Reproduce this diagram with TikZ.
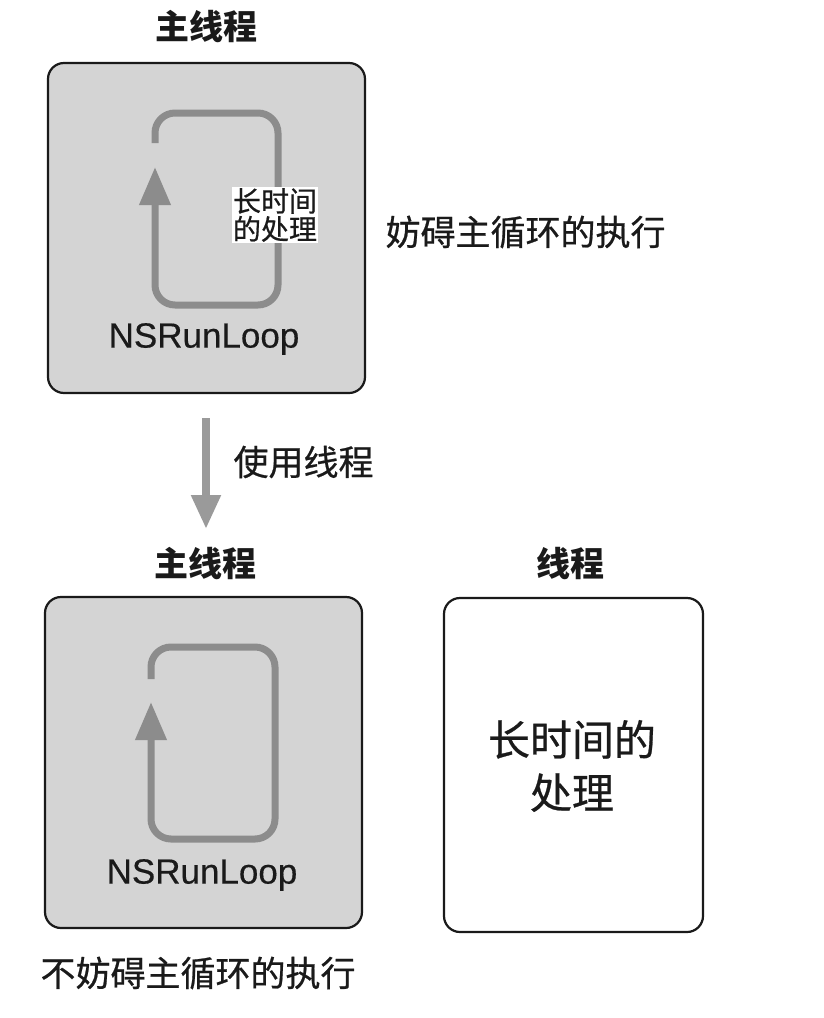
\documentclass[tikz,border=0pt]{standalone}
\usepackage{fontspec}
\setmainfont{Liberation Sans}
\newfontfamily\cjk{Noto Sans CJK SC}[FakeBold=0.6]
\newfontfamily\cjkb{Noto Sans CJK SC}
\newfontfamily\latinm{Liberation Sans}[FakeBold=0.4]
\usetikzlibrary{arrows.meta}
\definecolor{boxgray}{HTML}{D4D4D4}
\definecolor{loopgray}{HTML}{8C8C8C}
\definecolor{arrowgray}{HTML}{9A9A9A}
\definecolor{ink}{HTML}{1A1A1A}
\tikzset{
  panel/.style={draw=ink, line width=2.2pt, rounded corners=16pt, inner sep=0pt},
  loopline/.style={draw=loopgray, line width=7pt, rounded corners=20pt,
    -{Triangle[length=38pt,width=30pt]}},
  title/.style={text=ink, font=\cjkb\bfseries\fontsize{34}{40}\selectfont},
  cjktext/.style={text=ink, font=\cjk\fontsize{35}{40}\selectfont},
  rlname/.style={text=ink, font=\latinm\fontsize{35}{40}\selectfont},
}
\begin{document}
\begin{tikzpicture}[x=1pt,y=-1pt]
\useasboundingbox[fill=white] (0,0) rectangle (824,1018);

% top
\node[title] (t1) at (206,27) {主线程};
\node[panel, fill=boxgray, minimum width=317pt, minimum height=330pt] (box1) at (206.5,228) {};
\coordinate (l1s) at (155,143);
\coordinate (l1a) at (155,113);
\coordinate (l1b) at (278,113);
\coordinate (l1c) at (278,305);
\coordinate (l1d) at (155,305);
\coordinate (l1e) at (155,167);
\draw[loopline] (l1s) -- (l1a) -- (l1b) -- (l1c) -- (l1d) -- (l1e);
\node[fill=white, text=ink, inner sep=1pt, align=left,
      font=\cjk\fontsize{28}{28}\selectfont] (lab1) at (275,215) {长时间\\的处理};
\node[rlname] (rl1) at (204,339) {NSRunLoop};
\node[cjktext, anchor=west] (hinder) at (382,232) {妨碍主循环的执行};

% arrow
\coordinate (a1) at (206,418);
\coordinate (a2) at (206,529);
\draw[draw=arrowgray, line width=8pt, -{Triangle[length=34pt,width=28pt]}] (a1) -- (a2);
\node[cjktext, anchor=west] (use) at (230,462) {使用线程};

% bottom
\node[title] (t2) at (205,564) {主线程};
\node[title] (t3) at (570,564) {线程};
\node[panel, fill=boxgray, minimum width=317pt, minimum height=331pt] (box2) at (203.5,762.5) {};
\coordinate (l2s) at (151,679);
\coordinate (l2a) at (151,647);
\coordinate (l2b) at (275,647);
\coordinate (l2c) at (275,839);
\coordinate (l2d) at (151,839);
\coordinate (l2e) at (151,702);
\draw[loopline] (l2s) -- (l2a) -- (l2b) -- (l2c) -- (l2d) -- (l2e);
\node[rlname] (rl2) at (202,875) {NSRunLoop};

\node[panel, fill=white, minimum width=259pt, minimum height=334pt] (box3) at (573.5,765) {};
\node[text=ink, align=center, font=\cjk\fontsize{42}{53}\selectfont] (long) at (572,766) {长时间的\\处理};

\node[cjktext, anchor=west] (nohinder) at (37,973) {不妨碍主循环的执行};
\end{tikzpicture}
\end{document}
